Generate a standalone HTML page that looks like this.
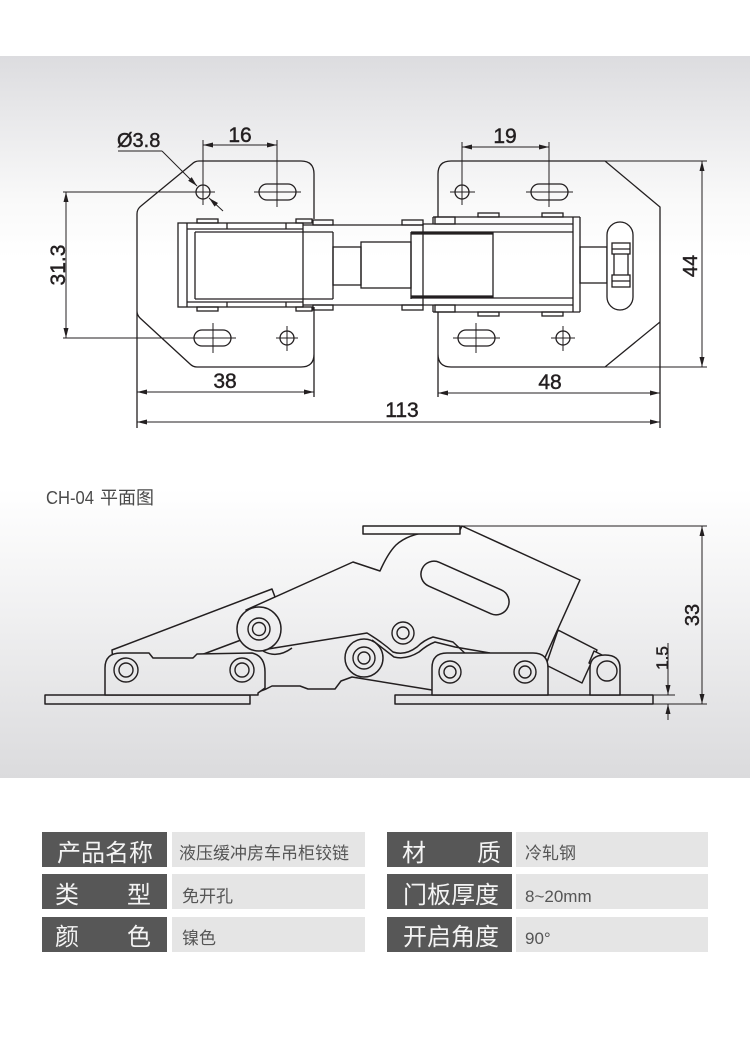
<!DOCTYPE html>
<html><head><meta charset="utf-8"><style>
html,body{margin:0;padding:0;background:#fff;}
svg{display:block}
</style></head><body>
<svg width="750" height="1047" viewBox="0 0 750 1047" xmlns="http://www.w3.org/2000/svg">
<defs>
<linearGradient id="bg" gradientUnits="userSpaceOnUse" x1="0" y1="56" x2="0" y2="778">
<stop offset="0" stop-color="#dcdcdf"/>
<stop offset="0.08" stop-color="#e8e8ea"/>
<stop offset="0.2" stop-color="#f9f9f9"/>
<stop offset="0.28" stop-color="#ffffff"/>
<stop offset="0.6" stop-color="#ffffff"/>
<stop offset="0.75" stop-color="#f2f2f3"/>
<stop offset="1" stop-color="#dbdbdd"/>
</linearGradient>
<marker id="ar" viewBox="0 0 10 5" refX="10" refY="2.5" markerWidth="10" markerHeight="5" markerUnits="userSpaceOnUse" orient="auto-start-reverse"><path d="M0 0L10 2.5L0 5Z" fill="#231f20"/></marker>
</defs>
<rect x="0" y="56" width="750" height="722" fill="url(#bg)"/>

<!-- ============ TOP VIEW ============ -->
<g stroke="#231f20" stroke-width="1.3" fill="none">
<path d="M199 161 L301 161 Q314 161 314 174 L314 219 M314 307 L314 397 M314 354 Q314 367 301 367 L197 367 Q193 367 190 364 L140 318 Q137 315 137 311 L137 214 Q137 209 141 206 L192 164 Q195 161 199 161 M137 311 L137 428"/>
<path d="M438 217 L438 174 Q438 161 451 161 L605 161 L660 207 L660 322 L605 367 L451 367 Q438 367 438 354 L438 312 M438 354 L438 397 M660 322 L660 428"/>
<circle cx="203" cy="192" r="7"/>
<rect x="259" y="184" width="37" height="16" rx="8"/>
<rect x="194" y="330" width="37" height="16" rx="8"/>
<circle cx="287" cy="338" r="7"/>
<circle cx="462" cy="192" r="7"/>
<rect x="531" y="184" width="37" height="16" rx="8"/>
<rect x="458" y="330" width="37" height="16" rx="8"/>
<circle cx="563" cy="338" r="7"/>
</g>
<g stroke="#231f20" stroke-width="1" fill="none">
<path d="M63 192 H215 M203 140 V205 M254 192 H301 M277 140 V207 M63 338 H236 M213 323 V353 M276 338 H298 M287 326 V351 M450 192 H475 M462 142 V205 M526 192 H573 M549 142 V207 M453 338 H500 M476 323 V353 M551 338 H575 M563 326 V351 M605 161 H707 M605 367 H707"/>
<line x1="203" y1="145" x2="277" y2="145" marker-start="url(#ar)" marker-end="url(#ar)"/>
<line x1="462" y1="147" x2="549" y2="147" marker-start="url(#ar)" marker-end="url(#ar)"/>
<line x1="66" y1="192" x2="66" y2="338" marker-start="url(#ar)" marker-end="url(#ar)"/>
<line x1="137" y1="392" x2="314" y2="392" marker-start="url(#ar)" marker-end="url(#ar)"/>
<line x1="438" y1="393" x2="660" y2="393" marker-start="url(#ar)" marker-end="url(#ar)"/>
<line x1="137" y1="422" x2="660" y2="422" marker-start="url(#ar)" marker-end="url(#ar)"/>
<line x1="702" y1="161" x2="702" y2="367" marker-start="url(#ar)" marker-end="url(#ar)"/>
<path d="M118 151 H162"/>
<line x1="162" y1="151" x2="197" y2="186" marker-end="url(#ar)"/>
<line x1="223" y1="211" x2="209" y2="198" marker-end="url(#ar)"/>
</g>

<g stroke="#231f20" stroke-width="1.3" fill="none">
<rect x="178" y="223" width="125" height="84" fill="#fff"/>
<path d="M187 223 V307 M195 232 V299 M187 229 H303 M195 232 H333 M195 299 H333 M187 302 H303 M227 223 V229 M286 223 V229 M227 302 V307 M286 302 V307"/>
<rect x="197" y="219" width="21" height="4"/>
<rect x="296" y="219" width="16" height="4"/>
<rect x="197" y="307" width="21" height="4"/>
<rect x="296" y="307" width="16" height="4"/>
<path d="M303 225 H423 M303 305 H423 M333 232 V299 M411 232 V299"/>
<rect x="313" y="220" width="20" height="5"/>
<rect x="402" y="220" width="21" height="5"/>
<rect x="313" y="305" width="20" height="5"/>
<rect x="402" y="305" width="21" height="5"/>
<rect x="333" y="247" width="28" height="38"/>
<rect x="361" y="242" width="50" height="46"/>
<path d="M433 217 H580 M433 217 V224 M423 224 H573 M411 232 H573 M411 298 H573 M423 305 H573 M433 312 H580 M433 305 V312 M493 232 V298 M573 217 V312 M580 217 V312 M423 224 V305"/>
<path d="M411 233.5 H493 M411 296.5 H493" stroke-width="2.2"/>
<rect x="478" y="213" width="21" height="4"/>
<rect x="542" y="213" width="21" height="4"/>
<rect x="478" y="312" width="21" height="4"/>
<rect x="542" y="312" width="21" height="4"/>
<rect x="435" y="217" width="20" height="7"/>
<rect x="435" y="305" width="20" height="7"/>
<rect x="580" y="247" width="27" height="36"/>
<rect x="607" y="222" width="26" height="88" rx="13" fill="#fff"/>
<rect x="612" y="243" width="18" height="11"/>
<rect x="612" y="275" width="18" height="12"/>
<path d="M614 254 V275 M628 254 V275 M612 249 H630 M612 281 H630"/>
</g>

<g font-family="'Liberation Sans', Arial, sans-serif" font-size="21" fill="#231f20" stroke="#231f20" stroke-width="0.45">
<text x="240" y="142" text-anchor="middle">16</text>
<text x="505" y="143" text-anchor="middle">19</text>
<text x="117" y="147" font-size="20">Ø3.8</text>
<text x="225" y="388" text-anchor="middle">38</text>
<text x="550" y="389" text-anchor="middle">48</text>
<text x="402" y="417" text-anchor="middle">113</text>
<text transform="translate(65,265) rotate(-90)" text-anchor="middle">31.3</text>
<text transform="translate(697,266) rotate(-90)" text-anchor="middle" font-size="20">44</text>
<text transform="translate(699,615) rotate(-90)" text-anchor="middle" font-size="20">33</text>
<text transform="translate(668,658) rotate(-90)" text-anchor="middle" font-size="17">1.5</text>
</g>

<text x="46" y="504" font-family="'Liberation Sans', 'Noto Sans CJK SC', sans-serif" font-size="18" fill="#4a4a4a" textLength="48" lengthAdjust="spacingAndGlyphs">CH-04</text>
<text x="100" y="504" font-family="'Liberation Sans', 'Noto Sans CJK SC', sans-serif" font-size="18" fill="#4a4a4a">平面图</text>

<!-- ============ SIDE VIEW ============ -->
<g stroke="#231f20" stroke-width="1" fill="none">
<path d="M460 526 H707 M653 704 H707 M653 695 H675"/>
<line x1="702" y1="526" x2="702" y2="704" marker-start="url(#ar)" marker-end="url(#ar)"/>
<line x1="668" y1="643" x2="668" y2="695" marker-end="url(#ar)"/>
<line x1="668" y1="720" x2="668" y2="704" marker-end="url(#ar)"/>
</g>
<g stroke="#231f20" stroke-width="1.5" fill="url(#bg)" stroke-linejoin="round">
<rect x="45" y="695" width="205" height="9"/>
<rect x="395" y="695" width="258" height="9"/>
<polygon points="112,650 272,589 275,597 252,608 241,640 193,658 115,690"/>
<path d="M246 610 L353 562 L380 571 Q388 553 396 545 Q408 534 430 532 L460 530 L462 526 L580 580 L543 662 L470 658 L453 642 L433 637 Q424 640 417 647 Q405 656 393 652 Q382 642 367 633 L268 649 Z"/>
<rect x="-47" y="-13" width="94" height="26" rx="13" transform="translate(465,588) rotate(24)" fill="none"/>
<rect x="363" y="526" width="97" height="8"/>
<path fill="none" d="M258 692 L266 689 L272 686 L300 686 L308 689 L335 689 L341 681 L352 677 L432 690"/>
<path fill="none" d="M372 640 Q385 650 394 657 Q406 660 419 652 Q427 645 435 642 L455 647 L490 653"/>
<path fill="none" d="M263 651 Q277 659 292 648"/>
<polygon points="558,630 597,650 582,683 546,665"/>
<polygon points="594,651 606,657 600,669 589,663"/>
<path d="M105 695 L105 668 Q105 653 121 653 L149 653 L153 658 L193 658 L197 654 L252 653 Q265 656 265 672 L265 688 L258 693 L258 695 Z"/>
<circle cx="259" cy="629" r="22"/>
<circle cx="364" cy="658" r="19"/>
<path d="M432 695 L432 668 Q432 653 447 653 L533 653 Q548 653 548 668 L548 695 Z"/>
<path d="M590 695 L590 668 Q590 655 605 655 Q620 655 620 668 L620 695 Z"/>
</g>
<g stroke="#231f20" stroke-width="1.4" fill="none">
<circle cx="126" cy="670" r="12"/><circle cx="126" cy="670" r="7"/>
<circle cx="242" cy="670" r="12"/><circle cx="242" cy="670" r="7"/>
<circle cx="259" cy="629" r="11"/><circle cx="259" cy="629" r="6.5"/>
<circle cx="364" cy="658" r="11"/><circle cx="364" cy="658" r="6"/>
<circle cx="403" cy="633" r="11"/><circle cx="403" cy="633" r="6"/>
<circle cx="450" cy="672" r="11"/><circle cx="450" cy="672" r="6"/>
<circle cx="525" cy="672" r="11"/><circle cx="525" cy="672" r="6"/>
<circle cx="607" cy="671" r="10"/>
</g>

<!-- ============ TABLE ============ -->
<g>
<rect x="42" y="832" width="125" height="35" fill="#575757"/>
<rect x="172" y="832" width="193" height="35" fill="#e5e5e5"/>
<rect x="42" y="874" width="125" height="35" fill="#575757"/>
<rect x="172" y="874" width="193" height="35" fill="#e5e5e5"/>
<rect x="42" y="917" width="125" height="35" fill="#575757"/>
<rect x="172" y="917" width="193" height="35" fill="#e5e5e5"/>
<rect x="387" y="832" width="125" height="35" fill="#575757"/>
<rect x="516" y="832" width="192" height="35" fill="#e5e5e5"/>
<rect x="387" y="874" width="125" height="35" fill="#575757"/>
<rect x="516" y="874" width="192" height="35" fill="#e5e5e5"/>
<rect x="387" y="917" width="125" height="35" fill="#575757"/>
<rect x="516" y="917" width="192" height="35" fill="#e5e5e5"/>
</g>
<g font-family="'Liberation Sans', 'Noto Sans CJK SC', sans-serif" font-size="24" fill="#f4f4f4">
<text x="57" y="861">产品名称</text>
<text x="55" y="903">类</text><text x="127" y="903">型</text>
<text x="55" y="945">颜</text><text x="127" y="945">色</text>
<text x="402" y="861">材</text><text x="477" y="861">质</text>
<text x="403" y="903">门板厚度</text>
<text x="403" y="945">开启角度</text>
</g>
<g font-family="'Liberation Sans', 'Noto Sans CJK SC', sans-serif" font-size="17" fill="#555">
<text x="179" y="859">液压缓冲房车吊柜铰链</text>
<text x="182" y="902">免开孔</text>
<text x="182" y="944">镍色</text>
<text x="525" y="859">冷轧钢</text>
<text x="525" y="902">8~20mm</text>
<text x="525" y="944">90°</text>
</g>
</svg>
</body></html>
